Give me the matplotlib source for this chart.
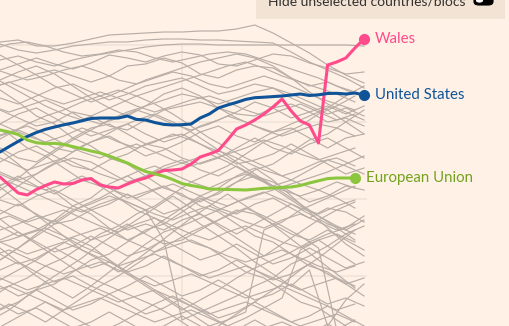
import numpy as np
import matplotlib
matplotlib.use("Agg")
import matplotlib.pyplot as plt
from matplotlib.patches import Rectangle, FancyBboxPatch, Circle

# ─── Data (rank-style index, 0 = top of chart) ────────────────────────────────

years = list(range(1982, 2023))
years_even = list(range(1982, 2023, 2))
years_odd = list(range(1981, 2022, 2))

wales = [17.7, 18.5, 19.3, 19.5, 18.95, 18.55, 18.2, 18.4, 18.35, 18.0, 17.85,
         18.5, 18.7, 18.8, 18.4, 18.05, 17.8, 17.4, 17.05, 17.0, 16.9, 16.4,
         15.7, 15.4, 15.05, 14.0, 12.9, 12.5, 12.0, 11.4, 10.7, 9.9, 11.1,
         12.1, 12.5, 14.3, 6.5, 6.2, 5.8, 4.8, 3.9]
united_states = [15.2, 14.66, 14.14, 13.65, 13.25, 12.93, 12.7, 12.48, 12.3,
                 12.08, 11.85, 11.8, 11.8, 11.8, 11.6, 11.94, 12.0, 12.25,
                 12.44, 12.5, 12.47, 12.4, 11.8, 11.4, 10.8, 10.5, 10.24,
                 9.94, 9.77, 9.72, 9.66, 9.6, 9.5, 9.4, 9.55, 9.48, 9.35, 9.33,
                 9.4, 9.3, 9.5]
european_union = [13.0, 13.2, 13.45, 14.0, 14.27, 14.37, 14.33, 14.44, 14.66,
                  14.87, 15.1, 15.3, 15.6, 15.95, 16.3, 16.75, 17.15, 17.38,
                  17.62, 17.96, 18.36, 18.55, 18.7, 18.9, 18.92, 18.95, 18.97,
                  19.0, 18.92, 18.83, 18.8, 18.74, 18.7, 18.55, 18.3, 18.08,
                  17.86, 17.8, 17.8, 17.8]

grey_even = [
    [4.2, 4.0, 4.6, 4.6, 4.3, 3.9, 3.5, 3.4, 3.3, 3.2, 3.2, 3.1, 3.1, 2.9, 2.5, 3.3, 4.3, 5.3, 6.5, 7.5, 8.3],
    [4.4, 5.0, 5.3, 5.0, 4.6, 4.4, 4.2, 4.2, 4.0, 3.9, 3.9, 4.0, 4.0, 4.1, 4.2, 4.3, 5.2, 6.2, 7.0, 7.8, 8.8],
    [6.0, 5.6, 6.2, 6.6, 6.0, 5.6, 5.3, 5.0, 4.7, 4.5, 4.4, 4.4, 4.5, 4.5, 4.5, 4.5, 4.5, 4.5, 4.5, 4.5, 4.6],
    [7.0, 6.4, 5.8, 6.4, 6.9, 6.3, 5.5, 5.8, 6.2, 5.6, 5.2, 5.5, 6.4, 6.6, 6.0, 5.4, 5.6, 6.3, 6.8, 7.4, 7.2],
    [8.5, 8.0, 7.4, 7.0, 7.6, 8.2, 7.6, 6.6, 6.4, 5.8, 6.3, 7.4, 7.8, 7.0, 6.6, 6.8, 7.8, 8.6, 8.2, 9.0, 9.6],
    [9.8, 10.4, 9.6, 8.8, 8.4, 9.2, 10.0, 9.4, 8.6, 8.2, 7.8, 8.6, 9.4, 9.0, 8.4, 8.8, 9.8, 10.6, 11.4, 10.8, 11.6],
    [11.0, 11.8, 12.6, 12.2, 11.2, 11.6, 12.6, 13.0, 12.0, 11.0, 10.6, 10.2, 10.8, 11.4, 11.6, 10.8, 10.4, 11.2, 12.2, 11.8, 12.6],
    [12.4, 11.4, 10.8, 11.8, 12.8, 13.6, 13.0, 12.4, 13.4, 14.2, 13.6, 12.6, 12.0, 11.2, 10.2, 10.8, 11.8, 11.2, 10.6, 11.4, 10.6],
    [13.6, 13.0, 13.8, 14.8, 15.2, 14.2, 13.6, 14.6, 15.6, 15.0, 14.2, 13.2, 12.6, 13.6, 14.2, 13.2, 12.8, 13.8, 14.8, 13.8, 13.4],
    [14.8, 15.8, 16.2, 15.0, 13.8, 12.8, 12.4, 13.4, 14.4, 14.8, 15.8, 16.4, 15.8, 14.8, 13.8, 14.8, 15.4, 14.4, 13.8, 14.8, 15.8],
    [16.2, 15.2, 14.6, 15.6, 16.6, 17.0, 16.0, 15.4, 14.4, 13.8, 13.4, 14.4, 15.4, 16.4, 16.0, 15.4, 14.4, 15.4, 16.4, 17.4, 16.8],
    [17.2, 18.0, 17.4, 16.4, 15.8, 16.2, 17.2, 18.2, 17.6, 16.6, 16.0, 17.0, 17.6, 16.6, 17.6, 18.6, 18.0, 17.0, 16.0, 16.6, 17.4],
    [18.6, 17.6, 18.6, 19.4, 18.4, 17.8, 18.8, 19.8, 19.2, 18.6, 19.6, 20.2, 19.2, 18.2, 17.6, 18.2, 19.2, 20.2, 19.6, 18.6, 19.0],
    [20.0, 20.6, 19.6, 19.0, 20.0, 21.0, 20.4, 19.4, 20.4, 21.4, 20.8, 19.8, 20.8, 21.4, 20.4, 19.8, 20.8, 21.8, 20.8, 21.2, 22.2],
    [21.4, 20.4, 21.4, 22.4, 22.0, 21.0, 22.0, 23.0, 22.4, 23.0, 22.0, 21.4, 22.4, 23.4, 22.4, 21.4, 20.4, 21.4, 22.4, 23.0, 22.0],
    [22.6, 23.6, 23.0, 22.0, 23.0, 24.0, 23.4, 22.4, 23.4, 24.4, 24.0, 23.0, 22.0, 21.0, 21.4, 22.4, 23.4, 24.0, 23.0, 24.0, 25.0],
    [24.0, 23.2, 24.2, 25.2, 24.6, 23.6, 24.6, 25.6, 25.0, 24.0, 25.0, 26.0, 25.4, 24.4, 25.4, 26.4, 25.8, 24.8, 25.8, 26.8, 26.2],
    [25.4, 26.4, 25.8, 24.8, 25.8, 26.8, 26.2, 27.2, 26.6, 25.6, 26.6, 27.6, 27.0, 26.0, 27.0, 28.0, 27.4, 26.4, 27.4, 28.4, 27.8],
    [27.0, 26.2, 27.2, 28.2, 27.6, 28.6, 29.4, 28.6, 27.6, 28.6, 29.6, 29.0, 28.0, 29.0, 30.0, 29.4, 28.4, 29.4, 30.4, 29.8, 30.6],
    [28.6, 29.6, 29.0, 30.0, 31.0, 30.4, 29.4, 30.4, 31.4, 30.8, 29.8, 30.8, 31.8, 31.2, 30.2, 31.2, 32.2, 31.6, 30.6, 31.6, 32.6],
    [30.4, 31.4, 30.8, 31.8, 32.8, 32.2, 31.2, 32.2, 33.2, 32.6, 31.6, 32.6, 33.6, 33.0, 32.0, 33.0, 34.0, 33.4, 32.4, 33.4, 34.4],
    [9.0, 10.2, 11.6, 12.4, 13.8, 14.6, 15.8, 16.4, 17.6, 18.8, 19.4, 20.6, 21.2, 22.4, 23.6, 24.2, 25.4, 26.6, 27.2, 28.4, 29.6],
    [31.0, 30.2, 29.0, 28.4, 27.2, 26.0, 25.4, 24.2, 23.0, 22.4, 21.2, 20.0, 19.4, 18.2, 17.0, 16.4, 15.2, 14.0, 13.4, 12.2, 11.0],
    [23.0, 22.4, 21.6, 22.2, 21.0, 20.4, 19.6, 20.2, 21.0, 24.0, 32.0, 31.2, 30.4, 29.6, 28.6, 27.8, 26.4, 25.6, 24.6, 23.4, 22.6],
    [15.0, 16.4, 18.0, 19.2, 20.6, 21.4, 22.8, 24.0, 23.2, 22.0, 20.8, 19.6, 18.8, 17.6, 16.8, 18.0, 19.6, 21.2, 22.8, 24.4, 25.6],
    [26.0, 24.8, 23.4, 22.0, 20.6, 19.8, 18.4, 17.6, 18.6, 19.8, 21.0, 22.4, 23.6, 24.8, 26.2, 27.4, 28.6, 27.0, 32.6, 30.0, 28.4],
    [5.5, 6.5, 7.5, 8.6, 9.4, 10.2, 9.6, 8.8, 8.0, 7.4, 6.8, 6.2, 5.8, 5.4, 5.8, 6.6, 7.8, 9.2, 10.4, 11.2, 12.0],
    [8.0, 7.2, 6.6, 7.4, 8.6, 9.8, 10.8, 11.6, 10.6, 9.4, 8.8, 9.6, 10.8, 11.8, 12.6, 13.2, 12.4, 11.6, 10.8, 9.6, 8.6],
    [19.0, 17.8, 16.4, 15.2, 14.0, 13.0, 12.0, 11.2, 10.6, 10.0, 9.4, 9.8, 10.4, 9.8, 9.2, 8.8, 9.4, 10.2, 11.0, 12.2, 13.4],
    [24.8, 26.2, 27.6, 28.8, 29.8, 28.6, 27.2, 25.8, 24.4, 23.2, 22.6, 21.8, 21.0, 20.2, 19.6, 19.0, 18.4, 17.8, 17.2, 16.4, 15.6],
    [28.0, 27.0, 26.0, 24.8, 23.8, 24.6, 26.0, 27.4, 28.6, 29.8, 31.0, 30.0, 29.0, 27.8, 26.8, 26.0, 25.2, 24.2, 23.4, 22.8, 21.6],
]

grey_odd = [
    [5.0, 4.4, 4.2, 4.6, 5.2, 5.6, 5.4, 5.0, 5.2, 5.8, 6.2, 5.8, 5.4, 5.2, 5.4, 6.0, 6.6, 7.2, 7.8, 8.6, 9.2],
    [6.8, 7.4, 8.0, 7.6, 7.0, 6.6, 7.2, 8.0, 8.4, 7.8, 7.2, 7.6, 8.4, 8.8, 8.2, 7.6, 8.2, 9.0, 9.8, 10.4, 11.0],
    [8.8, 8.2, 9.0, 9.8, 10.4, 9.8, 9.2, 9.8, 10.6, 11.2, 10.6, 10.0, 9.6, 10.2, 11.0, 11.6, 11.0, 10.4, 11.2, 12.0, 11.4],
    [10.6, 11.2, 10.6, 10.0, 10.8, 11.8, 12.4, 11.8, 11.0, 11.6, 12.4, 13.0, 12.4, 11.6, 12.2, 13.0, 13.6, 13.0, 12.4, 12.8, 13.6],
    [12.0, 12.8, 13.6, 14.2, 13.6, 12.8, 13.4, 14.2, 14.8, 14.2, 13.4, 14.0, 14.8, 15.4, 14.8, 14.0, 14.6, 15.4, 16.0, 15.4, 14.8],
    [13.8, 13.2, 12.6, 13.4, 14.4, 15.2, 15.8, 15.0, 14.4, 15.2, 16.0, 16.6, 16.0, 15.4, 16.2, 17.0, 17.6, 17.0, 16.2, 15.8, 16.6],
    [15.4, 16.2, 17.0, 16.4, 15.8, 16.6, 17.4, 18.0, 17.2, 16.6, 17.4, 18.2, 18.8, 18.0, 17.4, 18.2, 19.0, 19.6, 19.0, 18.2, 18.8],
    [17.0, 17.8, 18.4, 19.0, 18.4, 17.6, 18.4, 19.2, 19.8, 19.0, 18.4, 19.2, 20.0, 20.6, 19.8, 19.2, 20.0, 20.8, 21.4, 20.6, 20.0],
    [18.8, 18.2, 19.0, 19.8, 20.6, 21.2, 20.4, 19.8, 20.6, 21.4, 22.0, 21.2, 20.6, 21.4, 22.2, 22.8, 22.0, 21.4, 22.2, 23.0, 22.4],
    [20.6, 21.4, 22.2, 21.6, 21.0, 21.8, 22.6, 23.2, 22.4, 21.8, 22.6, 23.4, 24.0, 23.2, 22.6, 23.4, 24.2, 24.8, 24.0, 23.4, 24.2],
    [22.2, 21.6, 22.4, 23.2, 24.0, 23.4, 22.8, 23.6, 24.4, 25.2, 24.6, 24.0, 24.8, 25.6, 26.2, 25.6, 25.0, 25.8, 26.6, 27.2, 26.6],
    [23.8, 24.6, 25.4, 24.8, 24.2, 25.0, 25.8, 26.6, 26.0, 25.4, 26.2, 27.0, 27.8, 27.2, 26.6, 27.4, 28.2, 29.0, 28.4, 27.8, 28.6],
    [25.6, 25.0, 25.8, 26.6, 27.4, 26.8, 26.2, 27.0, 27.8, 28.6, 28.0, 27.4, 28.2, 29.0, 29.8, 29.2, 28.6, 29.4, 30.2, 31.0, 30.4],
    [27.4, 28.2, 29.0, 28.4, 27.8, 28.6, 29.4, 30.2, 29.6, 29.0, 29.8, 30.6, 31.4, 30.8, 30.2, 31.0, 31.8, 32.6, 32.0, 31.4, 32.2],
    [29.2, 28.6, 29.4, 30.2, 31.0, 30.4, 29.8, 30.6, 31.4, 32.2, 31.6, 31.0, 31.8, 32.6, 33.4, 32.8, 32.2, 33.0, 33.8, 34.4, 33.8],
    [12.6, 13.4, 14.8, 15.6, 16.8, 18.0, 18.6, 19.8, 21.0, 21.8, 23.0, 24.2, 24.8, 26.0, 27.2, 27.8, 29.0, 30.2, 30.8, 32.0, 33.2],
    [29.8, 28.6, 27.8, 26.6, 25.8, 24.6, 23.4, 22.6, 21.4, 20.6, 19.4, 18.2, 17.4, 16.6, 15.4, 14.2, 13.4, 12.6, 11.4, 10.6, 9.6],
    [24.4, 24.0, 23.4, 22.8, 23.6, 24.6, 25.4, 26.6, 27.8, 29.0, 30.2, 31.4, 32.6, 32.0, 31.2, 23.0, 22.2, 21.0, 20.2, 19.4, 18.6],
    [18.0, 19.4, 20.8, 22.2, 23.6, 25.0, 26.0, 27.2, 26.0, 24.6, 23.2, 21.8, 20.6, 19.4, 20.6, 21.8, 23.2, 24.6, 26.0, 27.4, 28.8],
    [32.0, 31.0, 29.6, 28.2, 27.0, 25.8, 24.4, 23.2, 22.0, 20.8, 19.6, 20.8, 22.0, 23.2, 24.4, 25.6, 24.4, 23.2, 22.0, 21.0, 20.2],
    [20.4, 19.2, 18.0, 16.8, 15.8, 14.6, 13.8, 12.8, 12.0, 11.4, 12.2, 13.2, 14.4, 15.6, 16.8, 18.0, 19.2, 20.4, 21.6, 22.8, 24.0],
    [33.2, 32.2, 31.2, 30.2, 31.2, 32.2, 33.2, 32.4, 31.4, 30.4, 29.6, 30.6, 31.6, 32.6, 31.8, 30.8, 29.8, 25.0, 24.0, 25.2, 26.4],
    [7.6, 8.6, 9.6, 10.6, 11.4, 12.0, 11.2, 10.4, 9.6, 9.0, 8.4, 7.8, 7.2, 6.6, 6.2, 6.8, 7.6, 8.2, 8.8, 9.4, 10.2],
    [14.4, 13.4, 12.4, 11.6, 11.0, 10.2, 9.6, 9.0, 9.6, 10.4, 11.4, 12.6, 13.8, 14.8, 15.8, 16.6, 17.6, 18.4, 19.0, 19.8, 20.8],
    [21.2, 22.6, 23.8, 25.0, 26.2, 27.4, 28.2, 29.0, 29.8, 30.6, 31.6, 32.8, 33.2, 32.0, 30.8, 29.6, 28.4, 27.0, 25.8, 24.4, 23.0],
    [26.6, 25.4, 24.2, 23.0, 21.8, 20.6, 19.8, 18.8, 18.0, 17.2, 16.6, 16.0, 15.4, 16.2, 17.2, 18.2, 19.4, 20.6, 21.6, 22.6, 23.4],
    [31.4, 30.4, 31.2, 32.2, 31.0, 29.8, 28.6, 27.6, 26.4, 25.2, 24.2, 23.2, 22.4, 21.6, 20.8, 21.6, 22.6, 23.6, 24.8, 33.0, 32.0],
]

grid_y = [4.5, 12.2, 19.9, 27.6]
grid_x = [2002]

labels = ["Wales", "United States", "European Union"]

# ─── Style ────────────────────────────────────────────────────────────────────

BG = "#fff1e5"
GREY = "#b8aea7"
PINK = "#ff4b8b"
BLUE = "#0f5499"
GREEN = "#8cc63f"
GREEN_TXT = "#72a21e"
GRID = "#f0e3d7"
plt.rcParams["font.family"] = ["Lato", "DejaVu Sans"]

fig = plt.figure(figsize=(5.09, 3.26), dpi=100, facecolor=BG)
ax = fig.add_axes([0, 0, 1, 1])
ax.set_facecolor(BG)
ax.set_xlim(1982, 1982 + 509 / 9.1)
ax.set_ylim(32.6, 0)
ax.axis("off")

x_end = (2022.2 - 1982) / (509 / 9.1)
for gy in grid_y:
    ax.axhline(gy, xmin=0, xmax=x_end, color=GRID, lw=1.2, zorder=0)
for gx in grid_x:
    ax.axvline(gx, ymin=0, ymax=1 - grid_y[0] / 32.6, color=GRID, lw=1.2, zorder=0)

for vals in grey_even:
    ax.plot(years_even, vals, color=GREY, lw=0.85, zorder=1)
for vals in grey_odd:
    ax.plot(years_odd, vals, color=GREY, lw=0.85, zorder=1)

series = [
    (wales, years, PINK, PINK),
    (united_states, years, BLUE, BLUE),
    (european_union, years[:len(european_union)], GREEN, GREEN_TXT),
]
for (vals, xs, col, tcol), name in zip(series, labels):
    ax.plot(xs, vals, color=col, lw=2.2, zorder=3, solid_capstyle="round")
    ax.plot(xs[-1], vals[-1], "o", color=col, ms=7, zorder=4)
    ax.annotate(name, xy=(xs[-1], vals[-1]), xytext=(8, 0),
                textcoords="offset points", va="center", ha="left",
                color=tcol, fontsize=10.8, zorder=5)

# toggle box at the top (cut off in the original)
fig.patches.append(Rectangle((256 / 509, 1 - 19 / 326), 249 / 509, 19 / 326 + 0.01,
                             transform=fig.transFigure, facecolor="#f2e3d5",
                             edgecolor="none", zorder=6))
fig.text(268 / 509, 1 - 6 / 326, "Hide unselected countries/blocs",
         ha="left", va="baseline", fontsize=10, color="#33302e", zorder=7)
fig.patches.append(FancyBboxPatch((474 / 509, 1 - 5 / 326), 19 / 509, 10 / 326,
                                  boxstyle="round,pad=0,rounding_size=0.01",
                                  transform=fig.transFigure, facecolor="#000000",
                                  edgecolor="#000000", lw=0.8, zorder=7))
fig.patches.append(Circle((479.5 / 509, 1 - 0.5 / 326), 4.2 / 509,
                          transform=fig.transFigure, facecolor="white",
                          edgecolor="#000000", lw=0.8, zorder=8))

fig.savefig("out.png", dpi=100, facecolor=BG)
